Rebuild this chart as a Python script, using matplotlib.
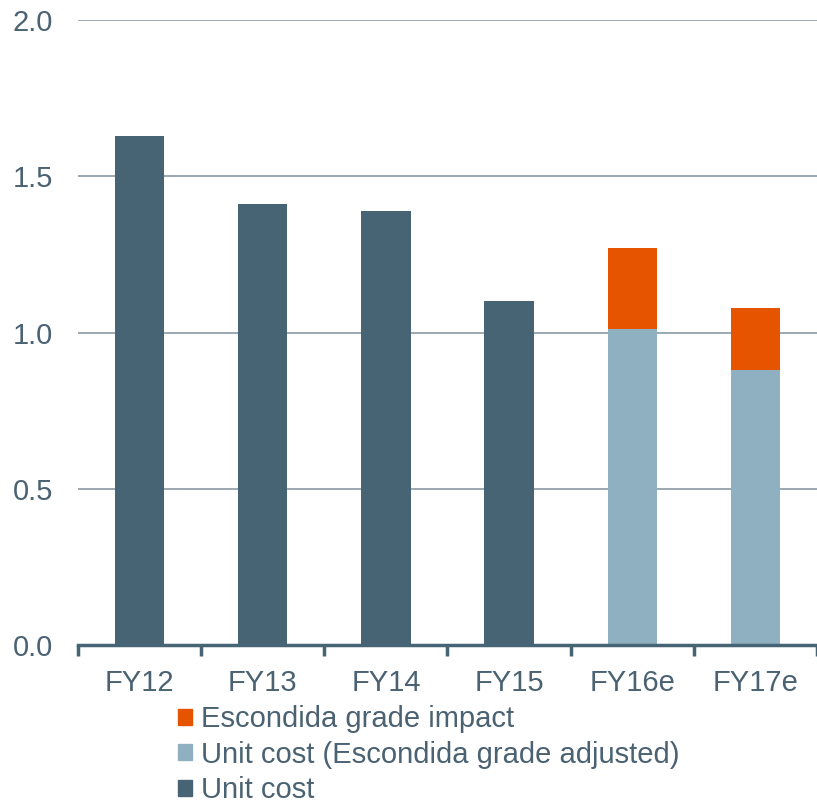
import matplotlib.pyplot as plt
from matplotlib.patches import Patch

plt.rcParams['font.family'] = ['Liberation Sans', 'DejaVu Sans']

# data
categories = ["FY12", "FY13", "FY14", "FY15", "FY16e", "FY17e"]
unit_cost = [1.63, 1.41, 1.39, 1.10, 0, 0]
unit_cost_adj = [0, 0, 0, 0, 1.01, 0.88]
grade_impact = [0, 0, 0, 0, 0.26, 0.20]

dark = "#476474"
light = "#8FB0C0"
orange = "#E65400"
text_col = "#4A6272"
grid_col = "#8A9AA4"

fig = plt.figure(figsize=(8.17, 8.01), dpi=100)
ax = fig.add_axes([78 / 817, 156 / 801, 1 - 78 / 817, 625 / 801])

x = range(len(categories))
w = 0.40
ax.bar(x, unit_cost, w, color=dark, zorder=3)
ax.bar(x, unit_cost_adj, w, color=light, zorder=3)
ax.bar(x, grade_impact, w, bottom=unit_cost_adj, color=orange, zorder=3)

ax.set_ylim(0, 2.0)
ax.set_xlim(-0.5, -0.5 + (817 - 78) / 124.5)
ax.set_yticks([0, 0.5, 1.0, 1.5, 2.0])
ax.set_yticklabels(["0.0", "0.5", "1.0", "1.5", "2.0"])
ax.yaxis.grid(True, color=grid_col, linewidth=1.2, zorder=0)
ax.set_axisbelow(True)

ax.set_xticks(list(x))
ax.set_xticklabels(categories)
ax.set_xticks([i - 0.5 for i in range(len(categories) + 1)], minor=True)
ax.tick_params(axis='x', which='major', length=0, pad=17, labelsize=21, labelcolor=text_col)
ax.tick_params(axis='x', which='minor', length=8, width=2.5, color=dark, direction='out')
ax.tick_params(axis='y', length=0, pad=18, labelsize=21, labelcolor=text_col)

for s in ['top', 'right', 'left']:
    ax.spines[s].set_visible(False)
ax.spines['bottom'].set_color(dark)
ax.spines['bottom'].set_linewidth(2.5)
ax.spines['bottom'].set_zorder(4)

handles = [Patch(color=orange, label="Escondida grade impact"),
           Patch(color=light, label="Unit cost (Escondida grade adjusted)"),
           Patch(color=dark, label="Unit cost")]
fig.legend(handles=handles, loc='upper left', bbox_to_anchor=(178 / 817, 1 - 705 / 801),
           frameon=False, fontsize=21, labelcolor=text_col, handlelength=0.48,
           handleheight=0.48, handletextpad=0.3, labelspacing=0.26, borderpad=0, borderaxespad=0)

fig.savefig("out.png", dpi=100)
